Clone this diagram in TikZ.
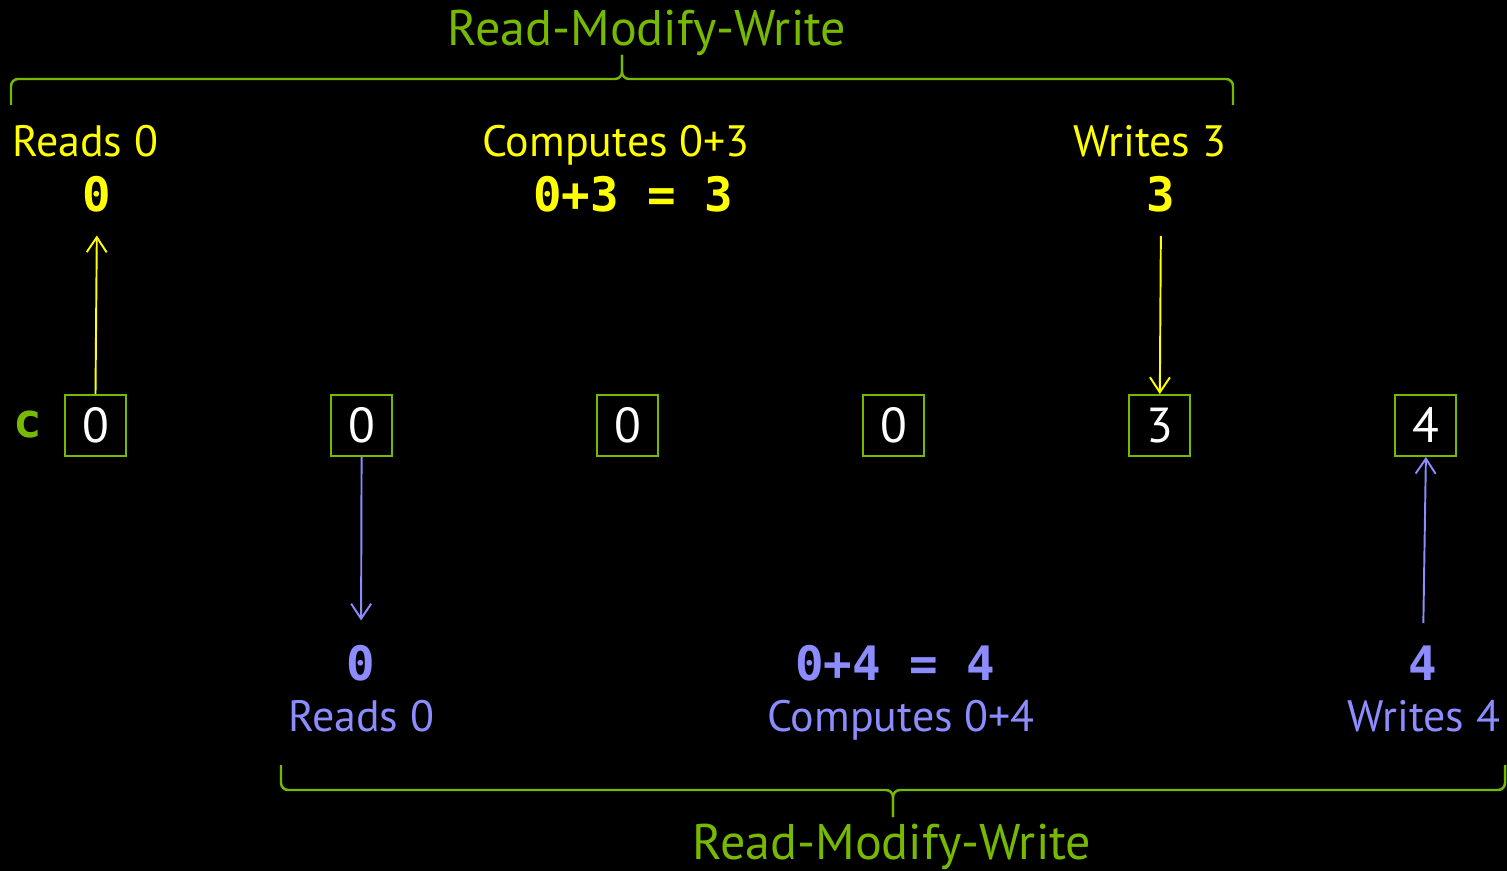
\documentclass[tikz,border=0pt]{standalone}
\usepackage{fontspec}
\setmainfont{PT Sans}
\newfontfamily\codefont{DejaVu Sans Mono}
\usetikzlibrary{arrows.meta,positioning}
\definecolor{rmwgreen}{HTML}{76B900}
\definecolor{rmwyellow}{HTML}{FFFF00}
\definecolor{rmwblue}{HTML}{8C8CFF}
\tikzset{
  rmwpicture/.style={x=0.02cm, y=-0.02cm, node distance=4.064cm},
  rmwcell/.style={draw=rmwgreen, line width=1.1pt, minimum size=1.22cm, inner sep=0pt, text=white, font=\fontsize{28}{30}\selectfont},
  rmwtitle/.style={anchor=base, inner sep=0pt, text=rmwgreen, font=\fontsize{28.5}{32}\selectfont},
  rmwlabel/.style={anchor=base, inner sep=0pt, font=\fontsize{25}{28}\selectfont},
  rmwvalue/.style={anchor=base, inner sep=0pt, font=\codefont\bfseries\fontsize{27}{30}\selectfont},
  rmwbrace/.style={draw=rmwgreen, line width=1.4pt, rounded corners=0.14cm},
  rmwarrow/.style={-{Straight Barb[length=3mm, width=4mm]}, line width=1.1pt}
}

\begin{document}
\begin{tikzpicture}[rmwpicture]
\fill[black] (0,0) rectangle (1507,871);
\useasboundingbox (0,0) rectangle (1507,871);

% memory cell c over time
\node[rmwcell] (cell0) at (95.5,425.5) {0};
\node[rmwcell, right=of cell0] (cell1) {0};
\node[rmwcell, right=of cell1] (cell2) {0};
\node[rmwcell, right=of cell2] (cell3) {0};
\node[rmwcell, right=of cell3] (cell4) {3};
\node[rmwcell, right=of cell4] (cell5) {4};
\node[rmwvalue, text=rmwgreen] (cname) at (28,437) {c};

% first thread (yellow)
\node[rmwtitle] (rmwtop) at (647,46) {Read-Modify-Write};
\node[rmwlabel, text=rmwyellow] (yread) at (85,157) {Reads 0};
\node[rmwvalue, text=rmwyellow] (yreadval) at (97,212) {0};
\node[rmwlabel, text=rmwyellow] (ycomp) at (616,157) {Computes 0+3};
\node[rmwvalue, text=rmwyellow] (ycompval) at (633,212) {0+3 = 3};
\node[rmwlabel, text=rmwyellow] (ywrite) at (1150,157) {Writes 3};
\node[rmwvalue, text=rmwyellow] (ywriteval) at (1161,212) {3};

% second thread (blue)
\node[rmwvalue, text=rmwblue] (breadval) at (361,680) {0};
\node[rmwlabel, text=rmwblue] (bread) at (361,731) {Reads 0};
\node[rmwvalue, text=rmwblue] (bcompval) at (895,680) {0+4 = 4};
\node[rmwlabel, text=rmwblue] (bcomp) at (901,731) {Computes 0+4};
\node[rmwvalue, text=rmwblue] (bwriteval) at (1423,680) {4};
\node[rmwlabel, text=rmwblue] (bwrite) at (1424,731) {Writes 4};
\node[rmwtitle] (rmwbottom) at (892,859) {Read-Modify-Write};

% reads and writes
\draw[rmwarrow, rmwyellow, shorten >=0.45cm] (cell0.north) -- (yreadval.south);
\draw[rmwarrow, rmwyellow, shorten <=0.46cm] (ywriteval.south) -- (cell4.north);
\draw[rmwarrow, rmwblue, shorten >=0.48cm] (cell1.south) -- (breadval.north);
\draw[rmwarrow, rmwblue, shorten <=0.44cm] (bwriteval.north) -- (cell5.south);

% braces
\draw[rmwbrace] (11,105) -- (11,79) -- (622,79) -- (622,55);
\draw[rmwbrace] (622,55) -- (622,79) -- (1233,79) -- (1233,105);
\draw[rmwbrace] (281,765) -- (281,790) -- (893,790) -- (893,817);
\draw[rmwbrace] (893,817) -- (893,790) -- (1505,790) -- (1505,765);
\end{tikzpicture}
\end{document}
